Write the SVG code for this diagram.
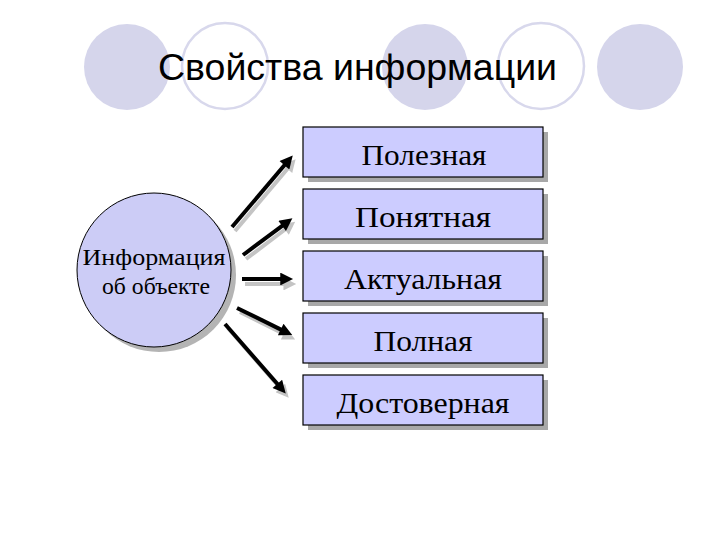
<svg xmlns="http://www.w3.org/2000/svg" width="720" height="540" viewBox="0 0 720 540">
<defs>
<style>
.deco-f{fill:#d5d5eb;}
.deco-o{fill:#ffffff;stroke:#d8d8ec;stroke-width:2.5;}
.title{font-family:"Liberation Sans",Arial,sans-serif;font-size:36px;fill:#000;}
.box{fill:#ccccff;stroke:#000;stroke-width:1.2;}
.shadow{fill:#a8a8a8;}
.lbl{font-family:"Liberation Serif","Times New Roman",serif;font-size:30px;fill:#000;text-anchor:middle;}
.nlbl{font-family:"Liberation Serif","Times New Roman",serif;font-size:24px;fill:#000;text-anchor:middle;}
.arr{stroke:#000;stroke-width:4;fill:none;marker-end:url(#ah);}
.arrs{stroke:#c4c4c4;stroke-width:4;fill:none;marker-end:url(#ahs);}
</style>
<marker id="ah" viewBox="0 0 10 10" refX="2" refY="5" markerWidth="3.8" markerHeight="3.2" orient="auto" markerUnits="strokeWidth">
<path d="M0,0 L10,5 L0,10 z" fill="#000"/>
</marker>
<marker id="ahs" viewBox="0 0 10 10" refX="2" refY="5" markerWidth="3.8" markerHeight="3.2" orient="auto" markerUnits="strokeWidth">
<path d="M0,0 L10,5 L0,10 z" fill="#c4c4c4"/>
</marker>
</defs>
<rect width="720" height="540" fill="#fff"/>
<g id="decor">
<circle class="deco-f" cx="127" cy="67" r="43"/>
<circle class="deco-o" cx="225" cy="66" r="43"/>
<circle class="deco-f" cx="425" cy="67" r="43"/>
<circle class="deco-o" cx="541" cy="66" r="43"/>
<circle class="deco-f" cx="640" cy="67" r="43"/>
</g>
<g id="title">
<text class="title" x="158" y="80" textLength="399" lengthAdjust="spacingAndGlyphs">Свойства информации</text>
</g>
<g id="connectors">
<line class="arrs" x1="235" y1="231" x2="289" y2="167"/>
<line class="arr" x1="232" y1="227" x2="286.1" y2="163.3"/>
<line class="arrs" x1="246" y1="259" x2="287" y2="228"/>
<line class="arr" x1="243" y1="255" x2="284.2" y2="224.3"/>
<line class="arrs" x1="245" y1="284" x2="286" y2="284"/>
<line class="arr" x1="242" y1="279" x2="282.8" y2="279"/>
<line class="arrs" x1="240" y1="312" x2="286" y2="335"/>
<line class="arr" x1="237" y1="308" x2="283" y2="330.6"/>
<line class="arrs" x1="228" y1="328" x2="282" y2="390"/>
<line class="arr" x1="225" y1="324" x2="279" y2="385.8"/>
</g>
<g id="source">
<circle cx="159" cy="275" r="77" fill="#b4b4b4"/>
<circle cx="154" cy="270" r="77" fill="#ccccf6" stroke="#000" stroke-width="1"/>
<text class="nlbl" x="154" y="265" textLength="143" lengthAdjust="spacingAndGlyphs">Информация</text>
<text class="nlbl" x="156" y="294" textLength="108" lengthAdjust="spacingAndGlyphs">об объекте</text>
</g>
<g id="p1">
<rect class="shadow" x="308" y="132" width="240" height="50"/>
<rect class="box" x="303" y="127" width="240" height="50"/>
<text class="lbl" x="424" y="165" textLength="125" lengthAdjust="spacingAndGlyphs">Полезная</text>
</g>
<g id="p2">
<rect class="shadow" x="308" y="194" width="240" height="50"/>
<rect class="box" x="303" y="189" width="240" height="50"/>
<text class="lbl" x="423" y="227" textLength="136" lengthAdjust="spacingAndGlyphs">Понятная</text>
</g>
<g id="p3">
<rect class="shadow" x="308" y="256" width="240" height="50"/>
<rect class="box" x="303" y="251" width="240" height="50"/>
<text class="lbl" x="423" y="289" textLength="158" lengthAdjust="spacingAndGlyphs">Актуальная</text>
</g>
<g id="p4">
<rect class="shadow" x="308" y="318" width="240" height="50"/>
<rect class="box" x="303" y="313" width="240" height="50"/>
<text class="lbl" x="423" y="351" textLength="99" lengthAdjust="spacingAndGlyphs">Полная</text>
</g>
<g id="p5">
<rect class="shadow" x="308" y="380" width="240" height="50"/>
<rect class="box" x="303" y="375" width="240" height="50"/>
<text class="lbl" x="423" y="413" textLength="173" lengthAdjust="spacingAndGlyphs">Достоверная</text>
</g>
</svg>
